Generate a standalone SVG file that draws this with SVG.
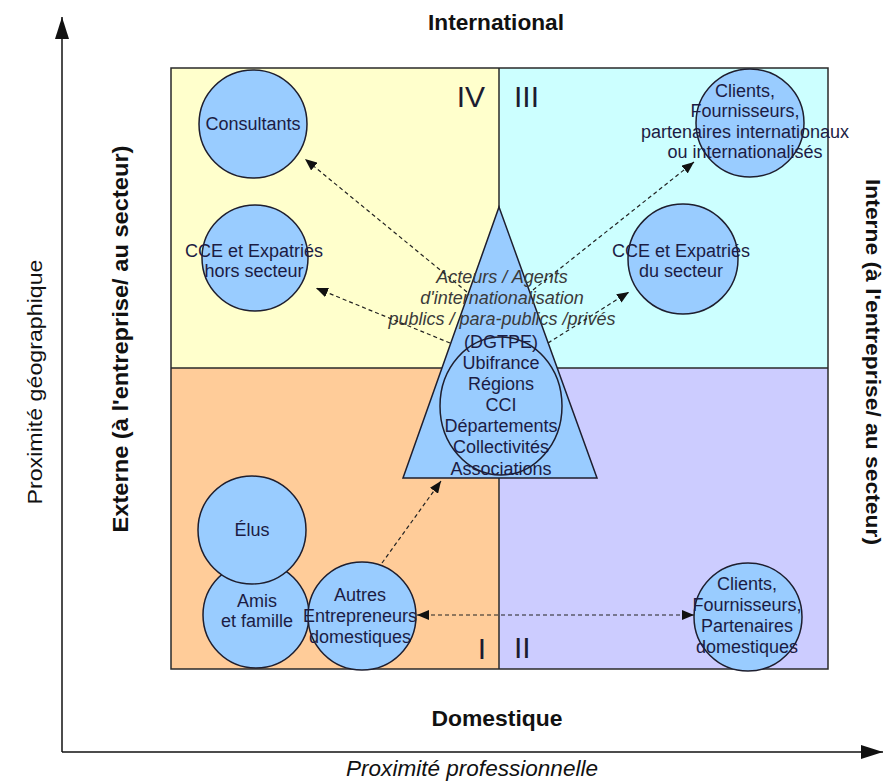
<svg xmlns="http://www.w3.org/2000/svg" width="888" height="783" viewBox="0 0 888 783">
<defs>
<style>
.q{stroke:none}
.frame{fill:none;stroke:#2a2a2a;stroke-width:1.5}
.node{fill:#99CCFF;stroke:#1e1e2e;stroke-width:1.5}
.nt{font-family:"Liberation Sans",Arial,sans-serif;font-size:18px;fill:#1c1c44;text-anchor:middle}
.it{font-family:"Liberation Sans",Arial,sans-serif;font-size:18px;font-style:italic;fill:#3a3a3a;text-anchor:middle}
.rn{font-family:"Liberation Sans",Arial,sans-serif;font-size:30px;fill:#1c1c30}
.ax{font-family:"Liberation Sans",Arial,sans-serif;fill:#111;text-anchor:middle}
.b{font-weight:bold}
.link{fill:none;stroke:#222;stroke-width:1.2;stroke-dasharray:4 3}
.axis{fill:none;stroke:#111;stroke-width:1.5}
</style>
<marker id="ah" viewBox="0 0 12 10" refX="12" refY="5" markerWidth="12" markerHeight="10" markerUnits="userSpaceOnUse" orient="auto-start-reverse">
<path d="M0,0 L12,5 L0,10 z" fill="#111"/>
</marker>
<marker id="axh" viewBox="0 0 22 14" refX="22" refY="7" markerWidth="22" markerHeight="14" markerUnits="userSpaceOnUse" orient="auto">
<path d="M0,0 L22,7 L0,14 z" fill="#111"/>
</marker>
</defs>
<rect width="888" height="783" fill="#fff"/>

<g id="quadrants">
<rect class="q" x="171" y="68" width="328" height="300" fill="#FFFFCC"/>
<rect class="q" x="499" y="68" width="329" height="300" fill="#CCFFFF"/>
<rect class="q" x="171" y="368" width="328" height="301" fill="#FFCC99"/>
<rect class="q" x="499" y="368" width="329" height="301" fill="#CCCCFF"/>
<rect class="frame" x="171" y="68" width="657" height="601"/>
<line class="frame" x1="499" y1="68" x2="499" y2="669"/>
<line class="frame" x1="171" y1="368" x2="828" y2="368"/>
<text class="rn" x="485" y="107" text-anchor="end">IV</text>
<text class="rn" x="514" y="107">III</text>
<text class="rn" x="486" y="659" text-anchor="end">I</text>
<text class="rn" x="514" y="658">II</text>
</g>

<g id="axes">
<line class="axis" x1="62" y1="752" x2="62" y2="17" marker-end="url(#axh)"/>
<line class="axis" x1="62" y1="752" x2="883" y2="752" marker-end="url(#axh)"/>
<text class="ax b" x="496" y="30" font-size="22" textLength="136" lengthAdjust="spacingAndGlyphs">International</text>
<text class="ax b" x="497" y="726" font-size="22" textLength="131" lengthAdjust="spacingAndGlyphs">Domestique</text>
<text class="ax" x="472" y="776" font-size="22" font-style="italic" textLength="252" lengthAdjust="spacingAndGlyphs">Proximité professionnelle</text>
<text class="ax" transform="translate(42,382) rotate(-90)" font-size="21" textLength="245" lengthAdjust="spacingAndGlyphs">Proximité géographique</text>
<text class="ax b" transform="translate(128,339) rotate(-90)" font-size="22" textLength="387" lengthAdjust="spacingAndGlyphs">Externe (à l'entreprise/ au secteur)</text>
<text class="ax b" transform="translate(866,362) rotate(90)" font-size="20" textLength="366" lengthAdjust="spacingAndGlyphs">Interne  (à l'entreprise/ au secteur)</text>
</g>

<g id="acteurs">
<polygon class="node" points="499,207 597,478 403,478"/>
<ellipse class="node" cx="501" cy="406" rx="61" ry="69" fill="none"/>
<text class="it" x="502" y="283">Acteurs / Agents</text>
<text class="it" x="502" y="304">d'internationalisation</text>
<text class="it" x="502" y="325">publics / para-publics /privés</text>
<text class="nt" x="501" y="348">(DGTPE)</text>
<text class="nt" x="501" y="369">Ubifrance</text>
<text class="nt" x="501" y="390">Régions</text>
<text class="nt" x="501" y="411">CCI</text>
<text class="nt" x="501" y="432">Départements</text>
<text class="nt" x="501" y="453">Collectivités</text>
<text class="nt" x="501" y="475">Associations</text>
</g>

<g id="consultants">
<circle class="node" cx="253" cy="124" r="54"/>
<text class="nt" x="253" y="130">Consultants</text>
</g>

<g id="cce-hors-secteur">
<circle class="node" cx="255" cy="258" r="53"/>
<text class="nt" x="254" y="257">CCE et Expatriés</text>
<text class="nt" x="254" y="277">hors secteur</text>
</g>

<g id="clients-internationaux">
<circle class="node" cx="750" cy="123" r="54"/>
<text class="nt" x="745" y="97">Clients,</text>
<text class="nt" x="745" y="117">Fournisseurs,</text>
<text class="nt" x="745" y="138">partenaires internationaux</text>
<text class="nt" x="745" y="158">ou internationalisés</text>
</g>

<g id="cce-du-secteur">
<circle class="node" cx="683" cy="259" r="55"/>
<text class="nt" x="681" y="257">CCE et Expatriés</text>
<text class="nt" x="681" y="277">du secteur</text>
</g>

<g id="amis-famille">
<circle class="node" cx="256" cy="615" r="53"/>
<text class="nt" x="257" y="607">Amis</text>
<text class="nt" x="257" y="627">et famille</text>
</g>

<g id="elus">
<circle class="node" cx="252" cy="530" r="54"/>
<text class="nt" x="252" y="536">Élus</text>
</g>

<g id="autres-entrepreneurs">
<circle class="node" cx="362" cy="616" r="54"/>
<text class="nt" x="360" y="601">Autres</text>
<text class="nt" x="360" y="622">Entrepreneurs</text>
<text class="nt" x="360" y="643">domestiques</text>
</g>

<g id="clients-domestiques">
<circle class="node" cx="748" cy="617" r="54"/>
<text class="nt" x="747" y="590">Clients,</text>
<text class="nt" x="747" y="611">Fournisseurs,</text>
<text class="nt" x="747" y="632">Partenaires</text>
<text class="nt" x="747" y="653">domestiques</text>
</g>

<g id="connectors">
<line class="link" x1="467" y1="292" x2="305" y2="159" marker-end="url(#ah)"/>
<line class="link" x1="450" y1="343" x2="316" y2="288" marker-end="url(#ah)"/>
<line class="link" x1="533" y1="290" x2="694" y2="162" marker-end="url(#ah)"/>
<line class="link" x1="548" y1="343" x2="629" y2="292" marker-end="url(#ah)"/>
<line class="link" x1="382" y1="563" x2="441" y2="481" marker-end="url(#ah)"/>
<line class="link" x1="417" y1="615" x2="694" y2="615" marker-start="url(#ah)" marker-end="url(#ah)"/>
</g>
</svg>
